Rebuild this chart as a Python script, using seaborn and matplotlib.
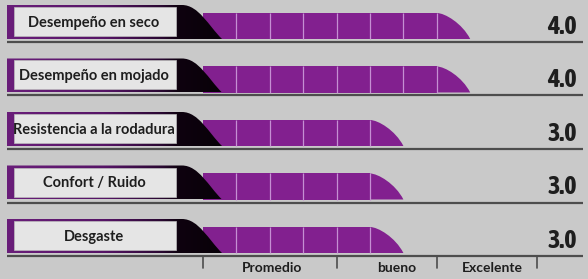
import numpy as np
import pandas as pd
import matplotlib
matplotlib.use("Agg")
import matplotlib.pyplot as plt
from matplotlib.path import Path
from matplotlib.patches import PathPatch, Rectangle
from matplotlib import font_manager
import matplotlib.patheffects as pe
import seaborn as sns

# ---------------- data ----------------
categories = ["Desempeño en seco", "Desempeño en mojado", "Resistencia a la rodadura",
              "Confort / Ruido", "Desgaste"]
values = [4.0, 4.0, 3.0, 3.0, 3.0]
value_labels = ["4.0", "4.0", "3.0", "3.0", "3.0"]
scale_ticks = [0.0, 2.0, 3.5, 5.0]
scale_labels = ["Promedio", "bueno", "Excelente"]
scale_label_pos = [1.03, 2.9, 4.33]
segment = 0.5

# ---------------- style ----------------
BG = "#c9c9c9"
PURPLE = "#82208f"
DIVIDER = "#c58fd3"
LINE = "#4d4d4d"
TEXT = "#1e1e1e"

sns.set_theme(style="white")
plt.rcParams["font.family"] = ["Lato", "DejaVu Sans"]

fonts = font_manager.fontManager.ttflist
narrow_bold = sorted({f.name for f in fonts
                      if ("Narrow" in f.name or "Condensed" in f.name)
                      and (f.weight in ("bold", 700, "heavy") or (isinstance(f.weight, int) and f.weight >= 600))})
narrow_any = sorted({f.name for f in fonts if "Narrow" in f.name or "Condensed" in f.name})
if narrow_bold:
    VALUE_FONT, VALUE_EFFECT, VALUE_SIZE = narrow_bold[0], None, 19
elif narrow_any:
    VALUE_FONT, VALUE_EFFECT, VALUE_SIZE = narrow_any[0], [pe.withStroke(linewidth=1.6, foreground=TEXT)], 19
else:
    VALUE_FONT, VALUE_EFFECT, VALUE_SIZE = "Liberation Sans", None, 16

fig = plt.figure(figsize=(5.88, 2.79), dpi=100)
fig.patch.set_facecolor(BG)
ax = fig.add_axes([0, 0, 1, 1])
ax.set_facecolor(BG)

df = pd.DataFrame({"cat": categories, "body": [v - segment for v in values]})
sns.barplot(data=df, x="body", y="cat", orient="h", color=PURPLE, saturation=1,
            width=0.486, linewidth=0, ax=ax)

PX = 66.8   # px per value unit
PY = 53.5   # px per row
X0 = 203.0
Y0 = 26.0
ax.set_xlim(-X0 / PX, (588 - X0) / PX)
ax.set_ylim((279 - Y0) / PY, -Y0 / PY)
ax.axis("off")

def px2x(p):
    return (p - X0) / PX

def dy(p):
    return p / PY

cmap = matplotlib.colors.LinearSegmentedColormap.from_list(
    "dk", [(0.0, "#6a1e7a"), (0.45, "#561466"), (0.72, "#2a0832"),
           (0.8, "#0e020f"), (1.0, "#080108")])

half = 0.243
for r, v in enumerate(values):
    top, bot = r - half, r + half
    # rounded tail of the bar
    a = v - segment
    verts = [(a, top), (a + 0.12, top), (v - 0.12, r - 0.05), (v, bot), (a, bot), (a, top)]
    codes = [Path.MOVETO, Path.CURVE4, Path.CURVE4, Path.CURVE4, Path.LINETO, Path.CLOSEPOLY]
    ax.add_patch(PathPatch(Path(verts, codes), facecolor=PURPLE, edgecolor="none", zorder=3))
    # segment dividers
    k = segment
    while k < v - 1e-9:
        ax.plot([k, k], [top, bot], color=DIVIDER, lw=0.9, zorder=4, solid_capstyle="butt")
        k += segment
    # dark label block
    dtop = r + dy(5 - 26)
    dbot = r + dy(39 - 26)
    xl = px2x(7)
    xc = px2x(182)
    xe = px2x(222)
    verts = [(xl, dtop), (xc, dtop), (xc + 0.25, dtop), (xe - 0.2, r + 0.0), (xe, dbot),
             (xl, dbot), (xl, dtop)]
    codes = [Path.MOVETO, Path.LINETO, Path.CURVE4, Path.CURVE4, Path.CURVE4,
             Path.LINETO, Path.CLOSEPOLY]
    patch = PathPatch(Path(verts, codes), facecolor="none", edgecolor="none", zorder=5)
    ax.add_patch(patch)
    grad = np.linspace(0, 1, 256).reshape(1, -1)
    im = ax.imshow(grad, extent=[xl, xe, dbot, dtop], aspect="auto", cmap=cmap,
                   zorder=5, interpolation="bilinear")
    im.set_clip_path(patch)
    # white label box
    ax.add_patch(Rectangle((px2x(14), dtop + dy(2)), px2x(176) - px2x(14),
                           (dbot - dy(3)) - (dtop + dy(2)),
                           facecolor="#e5e5e5", edgecolor="#bdbdbd", lw=0.5, zorder=6))
    ax.text(px2x(94), r + dy(23 - 26), categories[r], ha="center", va="center",
            fontsize=10.5, fontweight="bold", color=TEXT, zorder=7)
    # baseline rule
    ax.plot([px2x(7), px2x(583)], [r + dy(42 - 26)] * 2, color=LINE, lw=1.6, zorder=2,
            solid_capstyle="butt")
    # value
    t = ax.text(px2x(577), r + dy(8), value_labels[r], ha="right", va="baseline",
                fontsize=VALUE_SIZE, fontweight="bold", color=TEXT, zorder=7,
                family=[VALUE_FONT, "DejaVu Sans"])
    if VALUE_EFFECT:
        t.set_path_effects(VALUE_EFFECT)

# bottom scale
n = len(values) - 1
for tk in scale_ticks:
    ax.plot([tk, tk], [n + dy(16), n + dy(28)], color=LINE, lw=1.2, zorder=2)
for lab, pos in zip(scale_labels, scale_label_pos):
    ax.text(pos, n + dy(28.5), lab, ha="center", va="center", fontsize=10,
            fontweight="bold", color=TEXT)

fig.savefig("out.png", dpi=100, facecolor=BG)
